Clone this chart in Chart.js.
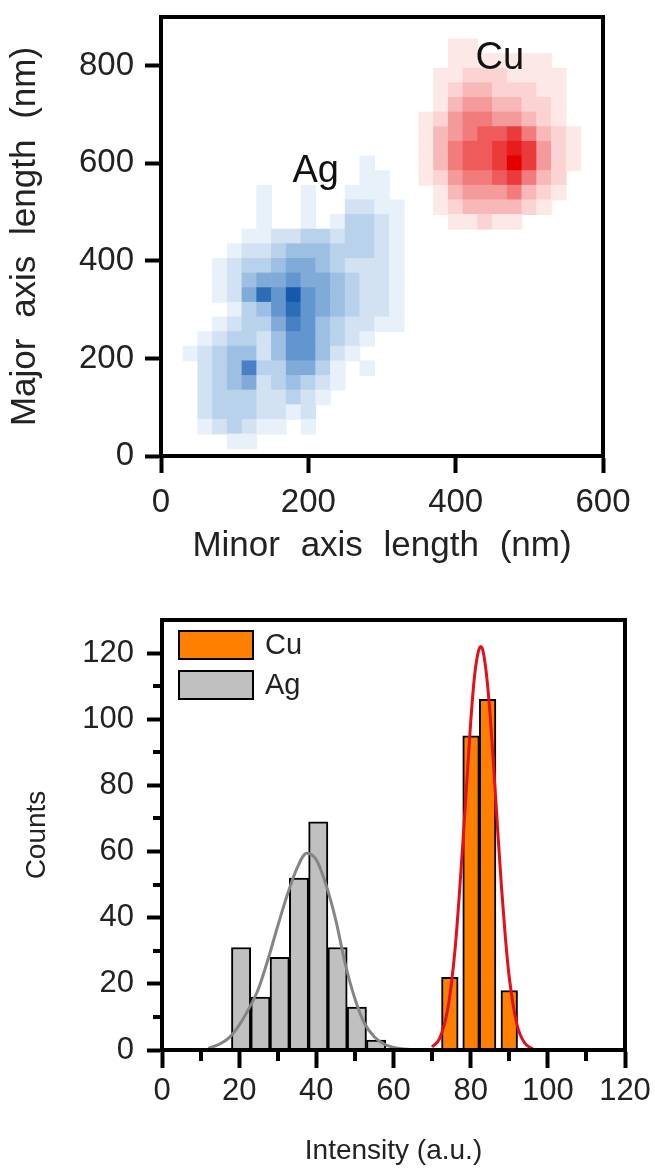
<!DOCTYPE html>
<html><head><meta charset="utf-8">
<script src="https://cdn.jsdelivr.net/npm/chart.js@4.4.1/dist/chart.umd.min.js"></script>
<style>
html,body{margin:0;padding:0;background:#fff;width:655px;height:1173px;overflow:hidden}
#top{position:absolute;left:0;top:0;width:655px;height:590px}
#bot{position:absolute;left:0;top:590px;width:655px;height:583px}
canvas{display:block}
</style></head><body>
<div id="top"><canvas id="c1" width="655" height="590" style="width:655px;height:590px"></canvas></div>
<div id="bot"><canvas id="c2" width="655" height="583" style="width:655px;height:583px"></canvas></div>
<script>
// ---------- Top chart: density map (levels 0-9) ----------
const cellW = 20;   // nm, column step
const cellH = 30;   // nm, row step
const agCols = [40,60,80,100,120,140,160,180,200,220,240,260,280,300,320,340];
const agRows = [600,570,540,510,480,450,420,390,360,330,300,270,240,210,180,150,120,90,60,30];
const agLevels = [
  "0000000000001000",
  "0000000000001100",
  "0000010010011100",
  "0000010010022110",
  "0000010010133210",
  "0000112233233210",
  "0001223444333210",
  "0012334554322210",
  "0012455655432210",
  "0012586965432210",
  "0001346865432210",
  "0012335764322110",
  "0123324664321000",
  "1234424664210000",
  "0234733553101000",
  "0234523432100000",
  "0233322321000000",
  "0233322120000000",
  "0123211010000000",
  "0001100000000000"
];
const cuCols = [360,380,400,420,440,460,480,500,520,540,560];
const cuRows = [840,810,780,750,720,690,660,630,600,570,540,510,480];
const cuLevels = [
  "00110000000",
  "00111111100",
  "01122211110",
  "01233222110",
  "01344332210",
  "12455443210",
  "13456675321",
  "13566787421",
  "13566797421",
  "12455675320",
  "01344453210",
  "01233332100",
  "00112110000"
];
const blues = [null,'#e8f0f9','#d2e2f3','#b9d2ec','#9dbfe3','#80abd9','#6396ce','#4781c3','#2c6db8','#1459ad'];
const reds  = [null,'#fde8e8','#fbd3d3','#f8b8b8','#f59a9a','#f27b7b','#ef5b5b','#eb3a3a','#e71c1c','#e20000'];
const topXTickValues = [0,200,400,600];
const topYTickValues = [0,200,400,600,800];
const topLabels = [{text:'Ag', x:210, y:584}, {text:'Cu', x:460, y:814}];

// ---------- Bottom chart: histograms + fits ----------
const agBinCenters = [20.5,25.5,30.5,35.5,40.5,45.5,50.5,55.5];
const agCounts     = [31,16,28,52,69,31,13,3];
const cuBinCenters = [74.6,80.1,84.4,90.0];
const cuCounts     = [22,95,106,18];
const agFitX = [12,15,17.5,20,22.5,25,27.5,30,32.5,35,37.5,40,42.5,45,47.5,50,52.5,55,57.5,60,62.5,65,70,80,90,100,110];
const agFitY = [0.5,1.8,3.8,7.5,12.5,18.5,27.5,37.5,47,55,59.5,57.5,50,39.5,26,15.5,8,4,1.8,0.8,0.3,0.1,0,0,0,0,0];
const cuFitX = [70,72,74,75,76,77,78,79,80,81,82,82.6,83,84,85,86,87,88,89,90,92,94,96];
const cuFitY = [0.9,3.6,12,20,31,46,63,81,99,113,120.5,122,121.5,114.5,102,85,66.5,49,34,22,7.7,2.1,0.4];
const botXTickValues = [0,20,40,60,80,100,120];
const botYTickValues = [0,20,40,60,80,100,120];
const botXMinor = [10,30,50,70,90,110];
const botYMinor = [10,30,50,70,90,110];

Chart.defaults.font.family = "'Liberation Sans', Arial, sans-serif";
Chart.defaults.color = '#222';

function densityPoints(cols, rows, levels){
  const pts = [];
  rows.forEach((yv, r) => {
    cols.forEach((xv, c) => {
      const v = +levels[r][c];
      if (v > 0) pts.push({x:xv, y:yv, v});
    });
  });
  return pts;
}
const cellRadius = ctx => {
  const xs = ctx.chart.scales.x, ys = ctx.chart.scales.y;
  const w = Math.abs(xs.getPixelForValue(cellW) - xs.getPixelForValue(0));
  const h = Math.abs(ys.getPixelForValue(cellH) - ys.getPixelForValue(0));
  return (Math.max(w, h) / 2 + 0.4) / Math.SQRT1_2;
};
function densityDataset(label, cols, rows, levels, pal){
  return {
    label, data: densityPoints(cols, rows, levels),
    pointStyle:'rect', pointBorderWidth:0, pointHoverBorderWidth:0,
    pointRadius: cellRadius, pointHoverRadius: cellRadius,
    pointBackgroundColor: c => (c.raw ? pal[c.raw.v] : pal[1]),
    pointHoverBackgroundColor: c => (c.raw ? pal[c.raw.v] : pal[1])
  };
}
const setTicks = values => (s => { s.ticks = values.map(v => ({value:v})); });

const framePlugin = {
  id:'frame',
  afterDatasetsDraw(chart){
    const {ctx, chartArea:a} = chart;
    ctx.save();
    ctx.strokeStyle = '#000'; ctx.lineWidth = 4;
    ctx.strokeRect(a.left, a.top, a.right - a.left, a.bottom - a.top);
    ctx.restore();
  }
};
const spacingPlugin = {
  id:'wordspacing',
  beforeDraw(chart){ try { chart.ctx.wordSpacing = '11px'; } catch(e){} }
};
const annotPlugin = {
  id:'annot',
  afterDatasetsDraw(chart){
    const {ctx} = chart; const xs = chart.scales.x, ys = chart.scales.y;
    ctx.save();
    ctx.fillStyle = '#111';
    ctx.font = "38px 'Liberation Sans', Arial, sans-serif";
    ctx.textAlign = 'center'; ctx.textBaseline = 'middle';
    topLabels.forEach(l => ctx.fillText(l.text, xs.getPixelForValue(l.x), ys.getPixelForValue(l.y)));
    ctx.restore();
  }
};

new Chart(document.getElementById('c1'), {
  type:'scatter',
  data:{datasets:[
    densityDataset('Ag', agCols, agRows, agLevels, blues),
    densityDataset('Cu', cuCols, cuRows, cuLevels, reds)
  ]},
  options:{
    responsive:false, animation:false, devicePixelRatio:1,
    events:[],
    layout:{padding:{top:17, right:52, left:0, bottom:0}},
    plugins:{legend:{display:false}, tooltip:{enabled:false}},
    scales:{
      x:{
        type:'linear', min:0, max:600, bounds:'data', offset:false,
        afterBuildTicks: setTicks(topXTickValues),
        ticks:{padding:10, color:'#222', font:{size:33}},
        grid:{drawOnChartArea:false, drawTicks:true, tickLength:17, tickWidth:4, tickColor:'#000', offset:false},
        border:{display:true, width:4, color:'#000'},
        title:{display:true, text:'Minor axis length (nm)', color:'#222', font:{size:35}, padding:{top:0, bottom:23}},
        afterFit(s){ s.height = 134; s.paddingLeft = 0; s.paddingRight = 0; }
      },
      y:{
        type:'linear', min:0, max:900, bounds:'data',
        afterBuildTicks: setTicks(topYTickValues),
        ticks:{padding:11, color:'#222', font:{size:33}},
        grid:{drawOnChartArea:false, drawTicks:true, tickLength:16, tickWidth:4, tickColor:'#000'},
        border:{display:true, width:4, color:'#000'},
        title:{display:true, text:'Major axis length (nm)', color:'#222', font:{size:35}, padding:{top:4, bottom:0}},
        afterFit(s){ s.width = 161; s.paddingTop = 0; s.paddingBottom = 0; }
      }
    }
  },
  plugins:[spacingPlugin, framePlugin, annotPlugin]
});

const minorPlugin = {
  id:'minor',
  afterDatasetsDraw(chart){
    const {ctx, chartArea:a} = chart; const xs = chart.scales.x, ys = chart.scales.y;
    ctx.save(); ctx.strokeStyle = '#000'; ctx.lineWidth = 4;
    ctx.beginPath();
    botXMinor.forEach(v => { const p = Math.round(xs.getPixelForValue(v)); ctx.moveTo(p, a.bottom); ctx.lineTo(p, a.bottom + 11); });
    botYMinor.forEach(v => { const p = Math.round(ys.getPixelForValue(v)); ctx.moveTo(a.left, p); ctx.lineTo(a.left - 9, p); });
    ctx.stroke(); ctx.restore();
  }
};
const legendPlugin = {
  id:'boxlegend',
  afterDraw(chart){
    const {ctx, chartArea:a} = chart;
    const items = chart.data.datasets.filter(d => d.showInLegend);
    ctx.save();
    ctx.font = "29px 'Liberation Sans', Arial, sans-serif";
    ctx.textBaseline = 'middle'; ctx.textAlign = 'left';
    items.forEach((d, i) => {
      const x = a.left + 16, y = a.top + 10 + i * 40;
      ctx.fillStyle = d.backgroundColor; ctx.fillRect(x, y, 76, 30);
      ctx.strokeStyle = '#000'; ctx.lineWidth = 2; ctx.strokeRect(x + 1, y + 1, 74, 28);
      ctx.fillStyle = '#222'; ctx.fillText(d.label, x + 87, y + 16);
    });
    ctx.restore();
  }
};

new Chart(document.getElementById('c2'), {
  type:'bar',
  data:{datasets:[
    {type:'bar', label:'Cu', showInLegend:true, xAxisID:'x2', grouped:false,
     data: cuBinCenters.map((x, i) => ({x, y:cuCounts[i]})),
     backgroundColor:'#ff8000', borderColor:'#000', borderWidth:2, barPercentage:1, categoryPercentage:1, order:3},
    {type:'bar', label:'Ag', showInLegend:true, xAxisID:'x', grouped:false,
     data: agBinCenters.map((x, i) => ({x, y:agCounts[i]})),
     backgroundColor:'#c0c0c0', borderColor:'#000', borderWidth:2, barPercentage:1, categoryPercentage:1, order:3},
    {type:'line', label:'Ag fit', xAxisID:'x',
     data: agFitX.map((x, i) => ({x, y:agFitY[i]})),
     borderColor:'#858585', borderWidth:3, pointRadius:0, cubicInterpolationMode:'monotone', fill:false, order:2},
    {type:'line', label:'Cu fit', xAxisID:'x',
     data: cuFitX.map((x, i) => ({x, y:cuFitY[i]})),
     borderColor:'#e3101c', borderWidth:3, pointRadius:0, cubicInterpolationMode:'monotone', fill:false, order:1}
  ]},
  options:{
    responsive:false, animation:false, devicePixelRatio:1,
    events:[],
    layout:{padding:{top:30, right:30, left:0, bottom:0}},
    plugins:{legend:{display:false}, tooltip:{enabled:false}},
    scales:{
      x:{
        type:'linear', min:0, max:120, bounds:'data', offset:false,
        afterBuildTicks: setTicks(botXTickValues),
        ticks:{padding:5, color:'#222', font:{size:31}},
        grid:{drawOnChartArea:false, drawTicks:true, tickLength:18, tickWidth:4, tickColor:'#000', offset:false},
        border:{display:true, width:4, color:'#000'},
        title:{display:true, text:'Intensity (a.u.)', color:'#222', font:{size:28}, padding:{top:0, bottom:5}},
        afterFit(s){ s.height = 123; s.paddingLeft = 0; s.paddingRight = 0; }
      },
      x2:{type:'linear', display:false, min:0, max:120, offset:false, grid:{offset:false},
          afterBuildTicks: setTicks(botXTickValues)},
      y:{
        type:'linear', min:0, max:130, bounds:'data',
        afterBuildTicks: setTicks(botYTickValues),
        ticks:{padding:13, color:'#222', font:{size:31}},
        grid:{drawOnChartArea:false, drawTicks:true, tickLength:15, tickWidth:4, tickColor:'#000'},
        border:{display:true, width:4, color:'#000'},
        title:{display:true, text:'Counts', color:'#222', font:{size:28}, padding:{top:20, bottom:0}},
        afterFit(s){ s.width = 162; s.paddingTop = 0; s.paddingBottom = 0; }
      }
    }
  },
  plugins:[framePlugin, minorPlugin, legendPlugin]
});
</script>
</body></html>
